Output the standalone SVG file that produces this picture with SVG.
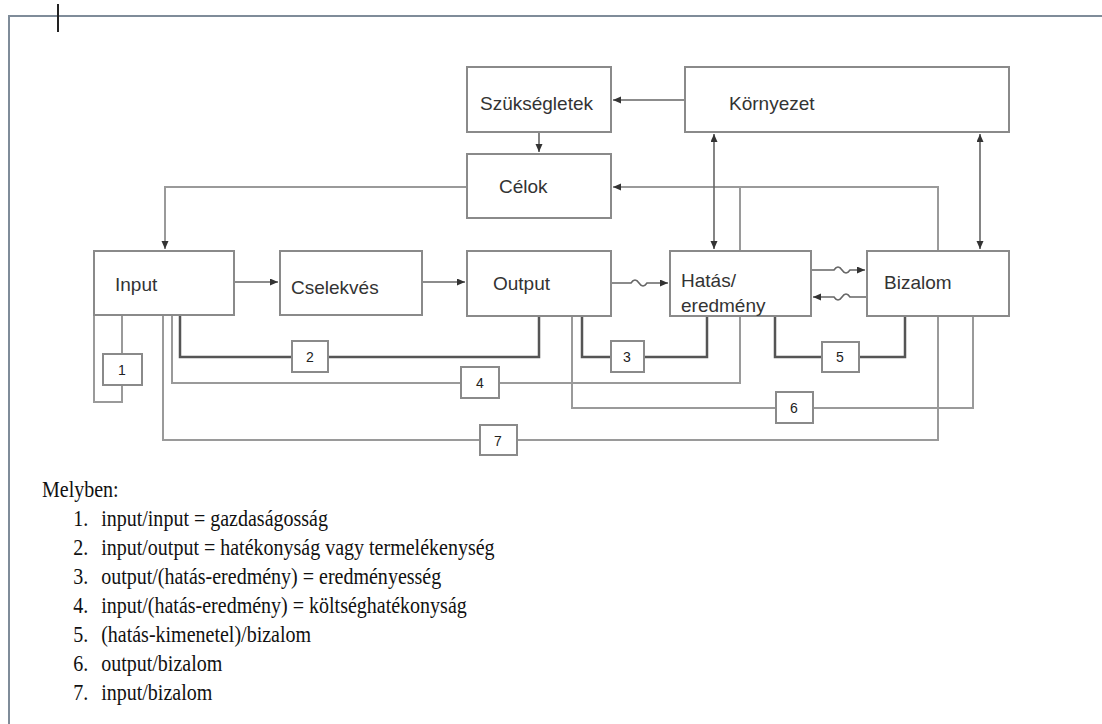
<svg xmlns="http://www.w3.org/2000/svg" width="1102" height="724" viewBox="0 0 1102 724">
<style>
.box{fill:#fff;stroke:#8a8a8a;stroke-width:2}
.nbox{fill:#fff;stroke:#8a8a8a;stroke-width:2}
.lbl{font-family:"Liberation Sans",Arial,sans-serif;font-size:19px;fill:#333}
.num{font-family:"Liberation Sans",Arial,sans-serif;font-size:14px;fill:#222;text-anchor:middle}
.ln{fill:none;stroke:#9a9a9a;stroke-width:2}
.dk{fill:none;stroke:#555;stroke-width:2.5}
.ar{fill:none;stroke:#666;stroke-width:1.6}
.leg{font-family:"Liberation Serif","Times New Roman",serif;font-size:23px;fill:#111}
</style>
<defs>
<marker id="ah" markerUnits="userSpaceOnUse" markerWidth="9" markerHeight="8" refX="8" refY="3.5" orient="auto-start-reverse">
<path d="M0,0 L8,3.5 L0,7 z" fill="#333"/>
</marker>
</defs>
<rect width="1102" height="724" fill="#fff"/>
<g id="page">
<path d="M8,16 H1102 M9,16 V724" fill="none" stroke="#7f8c99" stroke-width="2"/>
<path d="M58,4 V32" stroke="#222" stroke-width="2"/>
</g>
<g id="connectors">
<path class="ar" d="M685,100 H613" marker-end="url(#ah)"/>
<path class="ar" d="M539,132 V152" marker-end="url(#ah)"/>
<path class="ln" d="M938,251 V187 H613" marker-end="url(#ah)"/>
<path class="ln" d="M740,251 V187"/>
<path class="ln" d="M467,187 H165 V249" marker-end="url(#ah)"/>
<path class="ar" d="M714,134 V249" marker-start="url(#ah)" marker-end="url(#ah)"/>
<path class="ar" d="M980,134 V249" marker-start="url(#ah)" marker-end="url(#ah)"/>
<path class="ar" d="M234,282 H278" marker-end="url(#ah)"/>
<path class="ar" d="M422,282 H465" marker-end="url(#ah)"/>
<path class="ar" d="M611,283 H631 q4,-6 8,0 t8,0 H668" marker-end="url(#ah)"/>
<path class="ar" d="M811,270 H834 q4,-6 8,0 t8,0 H865" marker-end="url(#ah)"/>
<path class="ar" d="M867,297 H850 q-4,-6 -8,0 t-8,0 H813" marker-end="url(#ah)"/>
<path class="ln" d="M122,316 V402 H94 V316"/>
<path class="dk" d="M180,316 V357 H539 V316"/>
<path class="ln" d="M172,316 V383 H740 V316"/>
<path class="ln" d="M163,316 V440 H938 V316"/>
<path class="dk" d="M582,316 V357 H707 V316"/>
<path class="ln" d="M572,316 V408 H973 V316"/>
<path class="dk" d="M775,316 V357 H905 V316"/>
</g>
<g id="n-szuksegletek"><rect class="box" x="467" y="67" width="144" height="65"/><text class="lbl" x="480" y="110">Szükségletek</text></g>
<g id="n-kornyezet"><rect class="box" x="685" y="67" width="324" height="65"/><text class="lbl" x="729" y="110">Környezet</text></g>
<g id="n-celok"><rect class="box" x="467" y="154" width="144" height="64"/><text class="lbl" x="499" y="193">Célok</text></g>
<g id="n-input"><rect class="box" x="94" y="251" width="140" height="64"/><text class="lbl" x="115" y="291">Input</text></g>
<g id="n-cselekves"><rect class="box" x="280" y="251" width="142" height="64"/><text class="lbl" x="291" y="294">Cselekvés</text></g>
<g id="n-output"><rect class="box" x="467" y="251" width="144" height="65"/><text class="lbl" x="493" y="290">Output</text></g>
<g id="n-hatas"><rect class="box" x="670" y="251" width="141" height="65"/><text class="lbl" x="681" y="287">Hatás/</text><text class="lbl" x="681" y="312">eredmény</text></g>
<g id="n-bizalom"><rect class="box" x="867" y="251" width="142" height="65"/><text class="lbl" x="884" y="289">Bizalom</text></g>
<g id="m1"><rect class="nbox" x="103" y="354" width="39" height="31"/><text class="num" x="122" y="375">1</text></g>
<g id="m2"><rect class="nbox" x="292" y="341" width="36" height="31"/><text class="num" x="310" y="362">2</text></g>
<g id="m3"><rect class="nbox" x="611" y="341" width="33" height="31"/><text class="num" x="627" y="362">3</text></g>
<g id="m4"><rect class="nbox" x="461" y="367" width="38" height="31"/><text class="num" x="480" y="388">4</text></g>
<g id="m5"><rect class="nbox" x="822" y="342" width="37" height="30"/><text class="num" x="840" y="362">5</text></g>
<g id="m6"><rect class="nbox" x="776" y="392" width="37" height="31"/><text class="num" x="794" y="413">6</text></g>
<g id="m7"><rect class="nbox" x="480" y="425" width="37" height="30"/><text class="num" x="498" y="446">7</text></g>
<g id="legend" transform="translate(42,0) scale(0.87,1)">
<text class="leg" x="0" y="497">Melyben:</text>
<text class="leg" x="36" y="526">1.</text><text class="leg" x="68" y="526">input/input = gazdaságosság</text>
<text class="leg" x="36" y="555">2.</text><text class="leg" x="68" y="555">input/output = hatékonyság vagy termelékenység</text>
<text class="leg" x="36" y="584">3.</text><text class="leg" x="68" y="584">output/(hatás-eredmény) = eredményesség</text>
<text class="leg" x="36" y="613">4.</text><text class="leg" x="68" y="613">input/(hatás-eredmény) = költséghatékonyság</text>
<text class="leg" x="36" y="642">5.</text><text class="leg" x="68" y="642">(hatás-kimenetel)/bizalom</text>
<text class="leg" x="36" y="671">6.</text><text class="leg" x="68" y="671">output/bizalom</text>
<text class="leg" x="36" y="700">7.</text><text class="leg" x="68" y="700">input/bizalom</text>
</g>
</svg>
